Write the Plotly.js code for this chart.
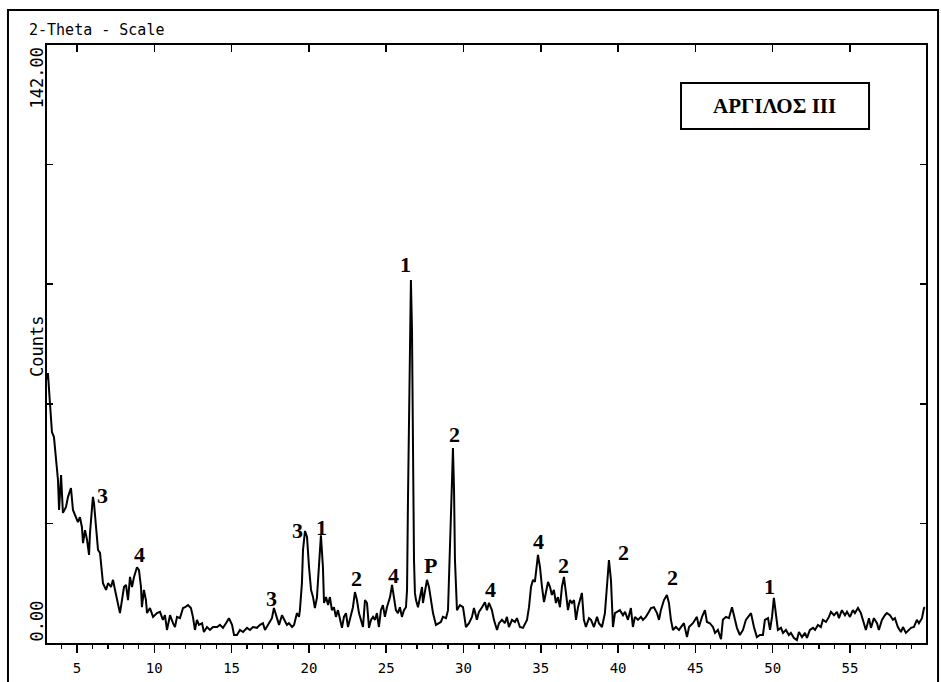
<!DOCTYPE html>
<html>
<head>
<meta charset="utf-8">
<script src="https://cdn.plot.ly/plotly-3.0.1.min.js"></script>
<style>
html,body{margin:0;padding:0;background:#fff;}
#chart{width:941px;height:682px;}
</style>
</head>
<body>
<div id="chart"></div>
<script>
// 2-Theta (degrees) and Counts
const twoTheta = [3.06,3.12,3.25,3.38,3.51,3.64,3.77,3.84,3.97,4.09,4.29,4.42,4.61,4.74,4.94,5.06,5.19,5.32,5.39,5.52,5.65,5.78,5.84,6.03,6.10,6.29,6.36,6.49,6.62,6.68,6.88,7.01,7.20,7.33,7.46,7.59,7.78,7.91,8.04,8.17,8.30,8.43,8.56,8.69,8.88,9.01,9.14,9.20,9.33,9.46,9.53,9.72,9.92,10.17,10.37,10.56,10.69,10.82,11.02,11.21,11.34,11.47,11.66,11.86,11.99,12.18,12.37,12.50,12.63,12.76,12.89,13.09,13.21,13.41,13.60,13.80,14.06,14.25,14.44,14.64,14.83,15.03,15.16,15.35,
15.54,15.74,16.00,16.19,16.38,16.64,16.84,17.03,17.16,17.35,17.61,17.74,17.94,18.07,18.26,18.39,18.58,18.71,18.91,19.04,19.23,19.36,19.42,19.55,19.62,19.75,19.88,20.01,20.14,20.27,20.39,20.52,20.65,20.78,20.91,20.98,21.11,21.24,21.36,21.49,21.62,21.75,21.88,22.01,22.14,22.27,22.40,22.53,22.66,22.85,22.98,23.11,23.24,23.37,23.50,23.63,23.76,23.89,24.02,24.15,24.28,24.40,24.53,24.66,24.79,24.92,25.05,25.25,25.38,25.50,25.63,25.76,25.89,26.02,26.15,26.28,26.35,26.41,26.47,26.54,26.60,26.67,26.73,26.80,26.86,26.93,27.06,27.19,27.32,27.38,27.51,27.64,27.77,27.90,28.03,28.22,28.42,28.54,28.67,28.87,29.00,29.06,29.19,29.26,29.32,29.39,29.45,29.52,29.58,29.77,29.97,
30.16,30.36,30.55,30.68,30.87,31.00,31.20,31.39,31.52,31.65,31.84,31.97,32.17,32.30,32.49,32.68,32.81,32.94,33.14,33.33,33.46,33.65,33.85,34.11,34.24,34.37,34.50,34.62,34.82,34.95,35.08,35.21,35.34,35.47,35.60,35.72,35.85,35.98,36.11,36.24,36.37,36.50,36.63,36.76,36.89,37.02,37.15,37.28,37.41,37.53,37.66,37.79,37.92,38.12,38.25,38.44,38.64,38.76,38.96,39.15,39.28,39.41,39.54,39.67,39.80,39.93,40.12,40.32,40.45,40.64,40.83,40.96,41.09,41.29,41.48,41.61,41.80,42.00,42.13,42.32,42.52,42.65,42.77,42.97,43.16,43.29,43.42,43.55,43.74,43.94,44.07,44.26,44.46,44.59,
44.84,45.10,45.23,45.43,45.62,45.75,45.94,46.14,46.27,46.46,46.66,46.78,46.98,47.17,47.37,47.56,47.69,47.88,48.08,48.27,48.47,48.60,48.79,48.98,49.18,49.37,49.50,49.70,49.83,49.96,50.08,50.21,50.34,50.54,50.67,50.86,51.05,51.18,51.38,51.57,51.70,51.90,52.09,52.22,52.41,52.61,52.74,52.93,53.12,53.25,53.45,53.64,53.77,53.97,54.16,54.29,54.48,54.68,54.81,55.00,55.19,55.32,55.52,55.71,55.84,56.03,56.23,56.36,56.55,56.75,56.87,57.07,57.26,57.39,57.59,57.78,57.91,58.10,58.30,58.43,58.62,58.82,58.95,59.14,59.33,59.46,59.66,59.79,59.85];

const counts = [62.5,64.1,57.0,50.1,48.9,44.2,38.7,31.6,39.9,30.9,32.3,34.7,36.8,31.6,29.9,28.7,29.9,27.5,23.7,26.8,24.5,20.9,26.1,34.7,33.2,26.1,22.1,21.4,16.6,14.2,12.6,14.2,13.3,15.0,12.6,10.2,7.1,10.2,13.3,13.8,10.2,15.7,13.3,15.7,18.0,17.3,13.3,8.5,12.6,10.2,7.1,8.3,6.2,7.1,7.4,5.5,6.6,3.1,6.6,4.7,3.8,6.2,5.9,8.3,8.5,9.0,8.3,6.2,3.1,5.5,4.3,4.7,2.6,3.8,3.1,3.8,3.8,4.3,3.6,4.7,5.9,4.3,1.9,1.9,
3.1,2.6,3.6,3.1,3.8,3.6,4.3,4.7,3.1,4.3,5.9,8.3,5.5,4.3,6.6,5.5,4.3,4.7,3.8,4.3,7.1,6.2,7.8,14.2,22.1,26.6,25.2,18.0,12.6,10.9,8.3,10.7,18.0,25.6,18.0,9.5,10.9,9.0,10.9,7.8,8.5,6.2,7.8,5.5,3.6,6.2,7.1,3.8,5.5,8.5,12.1,10.2,7.1,5.5,3.8,10.2,9.5,3.6,5.5,6.2,5.5,7.1,3.8,7.8,9.0,6.2,8.5,10.9,13.8,10.9,7.8,7.1,8.5,6.2,7.8,8.5,12.6,34.0,53.0,76.7,86.2,74.3,45.8,19.7,11.9,10.2,8.5,10.9,13.3,9.5,12.6,15.0,13.3,10.2,7.1,4.3,4.7,5.0,6.2,5.9,7.8,14.2,26.1,38.7,46.3,36.3,19.7,9.5,7.8,9.0,8.5,
3.8,4.7,6.2,8.3,5.5,7.4,8.5,9.7,7.8,9.5,7.8,5.5,3.1,4.7,5.5,4.7,6.2,3.8,5.5,5.0,5.9,3.8,3.6,5.5,8.5,13.3,15.0,14.5,20.9,18.0,13.3,9.7,12.1,14.5,13.3,11.4,12.6,9.5,10.9,8.5,13.3,15.7,11.9,7.8,10.2,9.5,10.2,5.5,8.5,10.2,11.9,5.5,3.8,5.9,5.5,3.8,6.2,4.7,3.8,7.1,13.3,19.7,15.0,3.8,7.1,7.4,7.8,6.6,7.4,5.5,8.3,3.8,6.2,5.5,6.2,5.5,6.2,7.4,8.3,8.5,7.1,5.5,7.8,10.2,11.4,9.5,5.5,3.1,3.8,3.1,3.8,4.7,1.4,3.8,
4.7,6.2,3.8,6.2,7.8,5.0,4.7,3.8,2.4,3.1,0.9,5.5,6.2,5.9,8.5,5.5,3.6,1.9,3.1,5.5,6.6,7.1,3.8,1.4,1.9,1.9,5.5,5.9,3.1,6.2,10.7,6.2,3.1,3.6,2.4,3.1,1.9,2.4,1.2,0.7,2.6,1.4,2.4,1.2,3.1,3.6,3.1,4.3,3.8,5.5,5.0,6.2,7.4,6.6,7.4,5.9,7.8,6.6,7.4,6.2,7.8,7.1,8.3,7.1,5.5,3.1,5.9,3.6,5.9,4.7,3.1,5.5,6.6,7.1,6.6,5.5,5.9,3.8,2.6,3.8,2.4,3.1,3.6,3.8,5.5,4.7,5.9,8.3,8.5];

// Peak identification labels
const peakLabels = ["3","4","3","3","1","2","4","1","P","2","4","4","2","2","2","1"];
const peakLabelTheta = [6.68,9.04,17.61,19.26,20.82,23.11,25.47,26.28,27.87,29.39,31.78,34.88,36.44,40.38,43.49,49.79];
const peakLabelCounts = [35.1,21.1,10.5,26.8,27.5,15.2,16.1,89.8,18.3,49.4,12.6,24.2,18.4,21.4,15.6,13.3];

const xRange = [3.06, 59.92];
const yRange = [0, 142];
const yTickVals = [0, 28.4, 56.8, 85.2, 113.6, 142];
const sampleName = "ΑΡΓΙΛΟΣ ΙΙΙ";

const mono = "DejaVu Sans Mono, Liberation Mono, monospace";
const serif = "Liberation Serif, Times New Roman, serif";

const traces = [
  {x: twoTheta, y: counts, type: "scatter", mode: "lines",
   line: {color: "#000", width: 2}, hoverinfo: "skip", xaxis: "x", yaxis: "y"},
  {x: twoTheta, y: counts, type: "scatter", mode: "lines",
   line: {color: "rgba(0,0,0,0)", width: 0}, hoverinfo: "skip", xaxis: "x2", yaxis: "y"}
];

const annotations = [
  {text: "2-Theta - Scale", xref: "paper", yref: "paper", x: -0.0228, y: 1.025,
   xanchor: "left", yanchor: "middle", showarrow: false, font: {family: mono, size: 15, color: "#000"}},
  {text: "142.00", xref: "paper", yref: "paper", x: -0.0114, y: 1.0, textangle: -90,
   xanchor: "center", yanchor: "top", showarrow: false, font: {family: mono, size: 17, color: "#000"}},
  {text: "0.00", xref: "paper", yref: "paper", x: -0.0114, y: 0.0, textangle: -90,
   xanchor: "center", yanchor: "bottom", showarrow: false, font: {family: mono, size: 17, color: "#000"}},
  {text: "Counts", xref: "paper", yref: "paper", x: -0.0114, y: 0.4967, textangle: -90,
   xanchor: "center", yanchor: "middle", showarrow: false, font: {family: mono, size: 17, color: "#000"}},
  {text: "<b>" + sampleName + "</b>", xref: "paper", yref: "paper", x: 0.8282, y: 0.8975,
   xanchor: "center", yanchor: "middle", showarrow: false, font: {family: serif, size: 21, color: "#000"}}
];
peakLabels.forEach((t, i) => {
  annotations.push({text: "<b>" + t + "</b>", x: peakLabelTheta[i], y: peakLabelCounts[i],
    xref: "x", yref: "y", showarrow: false, xanchor: "center", yanchor: "middle",
    font: {family: serif, size: 22, color: "#000"}});
});

const layout = {
  width: 941, height: 682,
  margin: {l: 47, r: 15, t: 45, b: 39, pad: 0},
  paper_bgcolor: "#fff", plot_bgcolor: "#fff",
  showlegend: false,
  xaxis: {range: xRange, showline: true, linecolor: "#000", linewidth: 2,
    ticks: "outside", ticklen: 8, tickwidth: 1.5, tickcolor: "#000",
    tick0: 0, dtick: 5, showgrid: false, zeroline: false, ticklabelstandoff: 3,
    tickfont: {family: mono, size: 14, color: "#000"},
    minor: {dtick: 1, ticks: "outside", ticklen: 4, tickwidth: 1.2, tickcolor: "#000", showgrid: false}},
  xaxis2: {range: xRange, overlaying: "x", side: "top", anchor: "y", showline: true, linecolor: "#000", linewidth: 2,
    ticks: "inside", ticklen: 7, tickwidth: 1.5, tickcolor: "#000", tick0: 0, dtick: 5,
    showticklabels: false, showgrid: false, zeroline: false},
  yaxis: {range: yRange, showline: true, linecolor: "#000", linewidth: 2, mirror: "ticks",
    ticks: "inside", ticklen: 6, tickwidth: 1.5, tickcolor: "#000", tickmode: "array", tickvals: yTickVals,
    showticklabels: false, showgrid: false, zeroline: false},
  shapes: [
    {type: "rect", xref: "paper", yref: "paper", x0: -0.0444, x1: 1.0137, y0: -0.08, y1: 1.0585,
     line: {color: "#000", width: 2}, fillcolor: "rgba(0,0,0,0)", layer: "above"},
    {type: "rect", xref: "paper", yref: "paper", x0: 0.7213, x1: 0.9352, y0: 0.8595, y1: 0.9365,
     line: {color: "#000", width: 2}, fillcolor: "rgba(0,0,0,0)", layer: "above"}
  ],
  annotations: annotations
};

Plotly.newPlot("chart", traces, layout, {staticPlot: true, displayModeBar: false});
</script>
</body>
</html>
